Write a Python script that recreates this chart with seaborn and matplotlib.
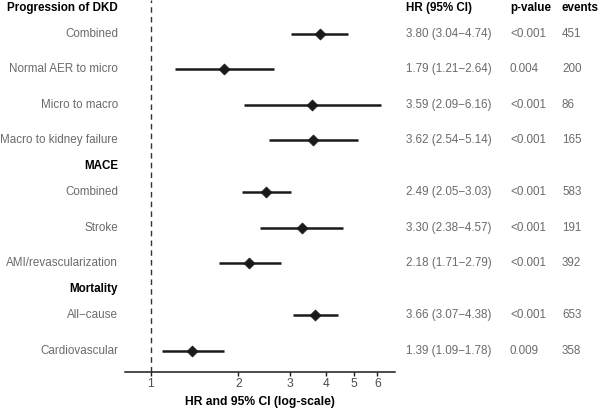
import numpy as np
import pandas as pd
import matplotlib
matplotlib.use("Agg")
import matplotlib.pyplot as plt
import matplotlib.transforms as mtransforms
import seaborn as sns

# Groups and outcomes
groups = ["Progression of DKD", "MACE", "Mortality"]
outcomes = [
    ["Combined", "Normal AER to micro", "Micro to macro", "Macro to kidney failure"],
    ["Combined", "Stroke", "AMI/revascularization"],
    ["All\u2212cause", "Cardiovascular"],
]
hr = [3.80, 1.79, 3.59, 3.62, 2.49, 3.30, 2.18, 3.66, 1.39]
lower = [3.04, 1.21, 2.09, 2.54, 2.05, 2.38, 1.71, 3.07, 1.09]
upper = [4.74, 2.64, 6.16, 5.14, 3.03, 4.57, 2.79, 4.38, 1.78]
pvals = ["<0.001", "0.004", "<0.001", "<0.001", "<0.001", "<0.001", "<0.001", "<0.001", "0.009"]
events = [451, 200, 86, 165, 583, 191, 392, 653, 358]
xticks = [1, 2, 3, 4, 5, 6]

sns.set_theme(style="white")
plt.rcParams['font.family'] = ['Liberation Sans', 'DejaVu Sans']

# y positions: rows step 1, group headers take a short gap
header_y = []
row_y = []
labels = []
y = 0.0
for g, outs in zip(groups, outcomes):
    if g != groups[0]:
        y += 0.73
    header_y.append(y)
    y += 0.73
    for o in outs:
        row_y.append(y)
        labels.append(o)
        y += 1
    y -= 1

df = pd.DataFrame({"label": labels, "hr": hr, "lower": lower, "upper": upper,
                   "p": pvals, "events": events, "y": row_y})

fig = plt.figure(figsize=(6, 4.09), dpi=100)
ax = fig.add_axes([125 / 600, 1 - 372 / 409, 270 / 600, 372 / 409])

ax.axvline(1, color="#333333", linestyle=(0, (4, 3)), linewidth=1.0, zorder=1)
ax.hlines(df["y"], df["lower"], df["upper"], color="#1a1a1a", linewidth=1.8, zorder=2)
sns.scatterplot(data=df, x="hr", y="y", marker="D", s=32, color="#1a1a1a",
                edgecolor="#1a1a1a", ax=ax, zorder=3, legend=False)

fs = 8.4
ax.set_xscale("log")
ax.set_xlim(0.815, 6.9)
ax.set_ylim(10.25, -0.225)
ax.xaxis.set_major_locator(matplotlib.ticker.FixedLocator(xticks))
ax.xaxis.set_minor_locator(matplotlib.ticker.NullLocator())
ax.set_xticklabels([str(t) for t in xticks], fontsize=fs + 0.3, color="#4d4d4d")
ax.tick_params(axis="x", direction="out", length=3, width=1, color="#1a1a1a", pad=1.5, bottom=True)
ax.set_yticks([])
ax.set_ylabel("")
ax.set_xlabel("HR and 95% CI (log-scale)", fontsize=fs + 0.3, fontweight="bold", color="black", labelpad=4)
for side in ["top", "right", "left"]:
    ax.spines[side].set_visible(False)
ax.spines["bottom"].set_color("#1a1a1a")
ax.spines["bottom"].set_linewidth(1.1)
ax.patch.set_alpha(0)

tr = mtransforms.blended_transform_factory(fig.transFigure, ax.transData)
grey = "#6b6b6b"
for g, gy in zip(groups, header_y):
    ax.text(118 / 600, gy, g, transform=tr, ha="right", va="center", fontsize=fs,
            fontweight="bold", color="black")
for _, r in df.iterrows():
    ax.text(118 / 600, r["y"], r["label"], transform=tr, ha="right", va="center", fontsize=fs, color=grey)
    ax.text(406 / 600, r["y"], f"{r['hr']:.2f} ({r['lower']:.2f}\u2212{r['upper']:.2f})",
            transform=tr, ha="left", va="center", fontsize=fs, color=grey)
    ax.text(510 / 600, r["y"], r["p"], transform=tr, ha="left", va="center", fontsize=fs, color=grey)
    ax.text(562 / 600, r["y"], str(r["events"]), transform=tr, ha="left", va="center", fontsize=fs, color=grey)

for txt, xp in [("HR (95% CI)", 406), ("p-value", 510), ("events", 562)]:
    ax.text(xp / 600, header_y[0], txt, transform=tr, ha="left", va="center", fontsize=fs,
            fontweight="bold", color="black")

fig.savefig("out.png", dpi=100)
